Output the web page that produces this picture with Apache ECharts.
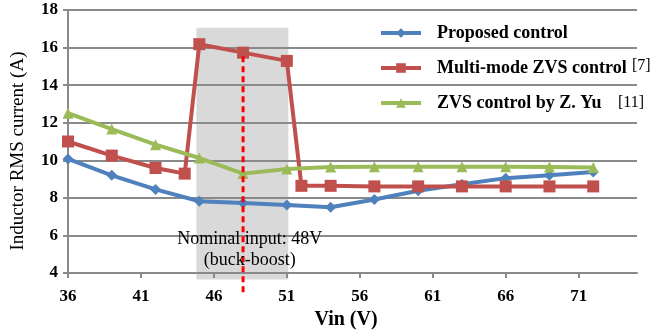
<!DOCTYPE html>
<html>
<head>
<meta charset="utf-8">
<script src="https://cdn.jsdelivr.net/npm/echarts@6/dist/echarts.min.js"></script>
<style>
  html, body { margin: 0; padding: 0; background: #fff; }
  #chart { width: 668px; height: 332px; }
</style>
</head>
<body>
<div id="chart"></div>
<script>
// Input voltage (V) and inductor RMS current (A) for each control scheme
const vinProposed = [36, 39, 42, 45, 48, 51, 54, 57, 60, 63, 66, 69, 72];
const irmsProposed = [10.07, 9.2, 8.45, 7.82, 7.73, 7.62, 7.5, 7.91, 8.38, 8.72, 9.05, 9.2, 9.38];

const vinMultiMode = [36, 39, 42, 44, 45, 48, 51, 52, 54, 57, 60, 63, 66, 69, 72];
const irmsMultiMode = [11.0, 10.25, 9.59, 9.29, 16.18, 15.73, 15.29, 8.64, 8.64, 8.61, 8.61, 8.61, 8.61, 8.61, 8.61];

const vinYu = [36, 39, 42, 45, 48, 51, 54, 57, 60, 63, 66, 69, 72];
const irmsYu = [12.51, 11.66, 10.83, 10.12, 9.29, 9.54, 9.64, 9.66, 9.66, 9.66, 9.66, 9.64, 9.62];

const seriesNames = ['Proposed control', 'Multi-mode ZVS control', 'ZVS control by Z. Yu'];
const xTickLabels = [36, 41, 46, 51, 56, 61, 66, 71];

// Buck-boost operating band and nominal input marker
const bandVin = [44.8, 51.1];
const bandIrms = [3.66, 17.06];
const nominalVin = 48;
const nominalLineIrms = [2.97, 15.73];
const noteLines = ['Nominal input: 48V', '(buck-boost)'];
const noteAt = [48.45, 5.24];

const pairs = (xs, ys) => xs.map((x, i) => [x, ys[i]]);

const serif = '"Liberation Serif", "DejaVu Serif", serif';
const gridGrey = '#8a8a8a';

const chart = echarts.init(document.getElementById('chart'), null, { renderer: 'canvas' });

const option = {
  animation: false,
  backgroundColor: '#fff',
  grid: { left: 68, right: 31, top: 10, bottom: 59, containLabel: false },
  xAxis: {
    type: 'value',
    min: 36, max: 75, interval: 5,
    axisLine: { show: true, lineStyle: { color: gridGrey, width: 2 } },
    axisTick: { show: true, length: 5, lineStyle: { color: gridGrey, width: 2 }, customValues: xTickLabels },
    axisLabel: { margin: 15, fontFamily: serif, fontWeight: 'bold', fontSize: 17, color: '#000', customValues: xTickLabels },
    splitLine: { show: false }
  },
  yAxis: {
    type: 'value',
    min: 4, max: 18, interval: 2,
    axisLine: { show: true, lineStyle: { color: gridGrey, width: 2 } },
    axisTick: { show: true, length: 5, lineStyle: { color: gridGrey, width: 2 } },
    axisLabel: { margin: 10, fontFamily: serif, fontWeight: 'bold', fontSize: 17, color: '#000' },
    splitLine: { show: true, lineStyle: { color: gridGrey, width: 2 } }
  },
  legend: {
    orient: 'vertical',
    left: 374, top: 18,
    itemWidth: 40, itemHeight: 12,
    itemGap: 15,
    data: seriesNames,
    lineStyle: { width: 4 },
    textStyle: { fontFamily: serif, fontWeight: 'bold', fontSize: 18, color: '#000', lineHeight: 20, padding: [0, 0, 0, 11] }
  },
  graphic: [
    { type: 'text', left: 632, top: 58, style: { text: '[7]', font: '16px ' + serif, fill: '#000' } },
    { type: 'text', left: 618, top: 95, style: { text: '[11]', font: '16px ' + serif, fill: '#000' } },
    {
      type: 'text', x: 18, y: 151, rotation: Math.PI / 2,
      style: { text: 'Inductor RMS current (A)', font: '19px ' + serif, fill: '#000', align: 'center', verticalAlign: 'middle' }
    },
    {
      type: 'text', x: 346, y: 320,
      style: { text: 'Vin (V)', font: 'bold 20px ' + serif, fill: '#000', align: 'center', verticalAlign: 'middle' }
    }
  ],
  series: [
    {
      // shaded band, drawn beneath the grid lines
      type: 'custom',
      z: -1,
      silent: true,
      clip: false,
      data: [[bandVin[0], bandIrms[0], bandVin[1], bandIrms[1]]],
      renderItem: (params, api) => {
        const p0 = api.coord([api.value(0), api.value(3)]);
        const p1 = api.coord([api.value(2), api.value(1)]);
        return {
          type: 'rect',
          shape: { x: p0[0], y: p0[1], width: p1[0] - p0[0], height: p1[1] - p0[1] },
          style: { fill: '#d9d9d9' }
        };
      }
    },
    {
      name: seriesNames[0], type: 'line',
      data: pairs(vinProposed, irmsProposed),
      symbol: 'diamond', symbolSize: 11, z: 3,
      lineStyle: { color: '#4f81bd', width: 4 },
      itemStyle: { color: '#4f81bd' }
    },
    {
      name: seriesNames[1], type: 'line',
      data: pairs(vinMultiMode, irmsMultiMode),
      symbol: 'rect', symbolSize: 12, z: 4,
      lineStyle: { color: '#c0504d', width: 4 },
      itemStyle: { color: '#c0504d' }
    },
    {
      name: seriesNames[2], type: 'line',
      data: pairs(vinYu, irmsYu),
      symbol: 'triangle', symbolSize: 11, z: 5,
      lineStyle: { color: '#9bbb59', width: 4 },
      itemStyle: { color: '#9bbb59' }
    },
    {
      // nominal input marker line and its note
      type: 'custom',
      z: 6,
      silent: true,
      clip: false,
      data: [[nominalVin, nominalLineIrms[0], nominalLineIrms[1], noteAt[0], noteAt[1]]],
      renderItem: (params, api) => {
        const a = api.coord([api.value(0), api.value(1)]);
        const b = api.coord([api.value(0), api.value(2)]);
        const t = api.coord([api.value(3), api.value(4)]);
        return {
          type: 'group',
          children: [
            {
              type: 'line',
              shape: { x1: a[0], y1: a[1], x2: b[0], y2: b[1] },
              style: { stroke: '#ff0000', lineWidth: 3, lineDash: [6, 4] }
            },
            {
              type: 'text',
              x: t[0], y: t[1],
              style: {
                text: noteLines.join('\n'),
                font: '18px ' + serif,
                fill: '#000',
                align: 'center',
                verticalAlign: 'middle',
                lineHeight: 21
              }
            }
          ]
        };
      }
    }
  ]
};

chart.setOption(option);
</script>
</body>
</html>
